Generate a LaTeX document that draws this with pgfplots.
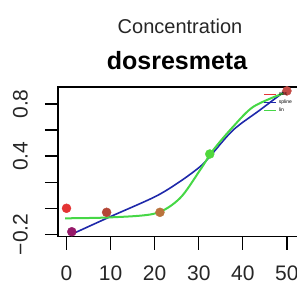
\documentclass[border=0pt]{standalone}
\usepackage{pgfplots}
\pgfplotsset{compat=1.18}
\usepackage{fontspec}
\setmainfont{Liberation Sans}
\definecolor{cblue}{RGB}{30,40,170}
\definecolor{cgreen}{RGB}{70,215,70}
\definecolor{pred}{RGB}{228,52,52}
\definecolor{ppurple}{RGB}{150,25,105}
\definecolor{pbrown}{RGB}{180,70,55}
\definecolor{porange}{RGB}{185,115,60}
\definecolor{pgreen}{RGB}{80,215,60}
\definecolor{pdred}{RGB}{195,75,70}
\begin{document}
\begin{tikzpicture}[x=1pt,y=1pt]
\useasboundingbox (0,0) rectangle (297,288);
\node[anchor=base,font=\fontsize{20}{22}\selectfont,text=black!85] at (180,254.7) {Concentration};
\node[anchor=base,font=\fontsize{25}{28}\bfseries\selectfont] at (177,218) {dosresmeta};
\begin{axis}[
  at={(58pt,51.3pt)}, anchor=south west,
  scale only axis, width=239.5pt, height=149.7pt,
  xmin=-1.93, xmax=52.4, ymin=-0.218, ymax=0.93,
  axis line style={line width=1.3pt},
  tick style={line width=1.3pt, black},
  tick align=outside, major tick length=13pt, minor tick length=13pt,
  xtick={0,10,20,30,40,50},
  ytick={-0.2,0.4,0.8},
  minor ytick={0,0.2,0.6},
  yticklabels={−0.2,0.4,0.8},
  xtick pos=bottom, ytick pos=left,
  /pgf/number format/assume math mode=true,
  ticklabel style={font=\fontsize{21}{23}\selectfont, text=black!85},
  xticklabel style={yshift=-13pt},
  yticklabel style={rotate=90, anchor=south, yshift=16pt, inner sep=1pt},
  legend style={at={(0.99,0.99)}, anchor=north east, draw=none, fill=none,
    font=\fontsize{5}{5.5}\selectfont, row sep=-1pt, inner sep=1pt},
  legend cell align=left,
  legend image code/.code={\draw[#1, line width=1.3pt] (0pt,0pt) -- (12pt,0pt);},
]
\addlegendimage{pred, line width=1.3pt}
\addlegendentry{obs}
\addlegendimage{cblue, line width=1.3pt}
\addlegendentry{spline}
\addlegendimage{cgreen, line width=1.3pt}
\addlegendentry{lin}
\addplot[cblue, line width=1.6pt, smooth, forget plot] coordinates {
(0.8,-0.205) (9.9,-0.065) (20.1,0.089) (25.7,0.204) (30.3,0.319) (32.5,0.396) (37.8,0.60) (43.9,0.754) (49.9,0.907)};
\addplot[cgreen, line width=2pt, smooth, forget plot] coordinates {
(-0.3,-0.077) (9.9,-0.07) (20.1,-0.04) (25.7,0.076) (30.3,0.293) (33.3,0.447) (37.8,0.626) (42.4,0.779) (49.2,0.882)};
\addplot[only marks, mark=*, mark size=4.5pt, pred, forget plot] coordinates {(0,0.0)};
\addplot[only marks, mark=*, mark size=4.5pt, ppurple, forget plot] coordinates {(1.2,-0.18)};
\addplot[only marks, mark=*, mark size=4.5pt, pbrown, forget plot] coordinates {(9.1,-0.031)};
\addplot[only marks, mark=*, mark size=4.5pt, porange, forget plot] coordinates {(21.2,-0.031)};
\addplot[only marks, mark=*, mark size=4.5pt, pgreen, forget plot] coordinates {(32.5,0.416)};
\addplot[only marks, mark=*, mark size=4.5pt, pdred, forget plot] coordinates {(50,0.90)};
\end{axis}
\end{tikzpicture}
\end{document}
